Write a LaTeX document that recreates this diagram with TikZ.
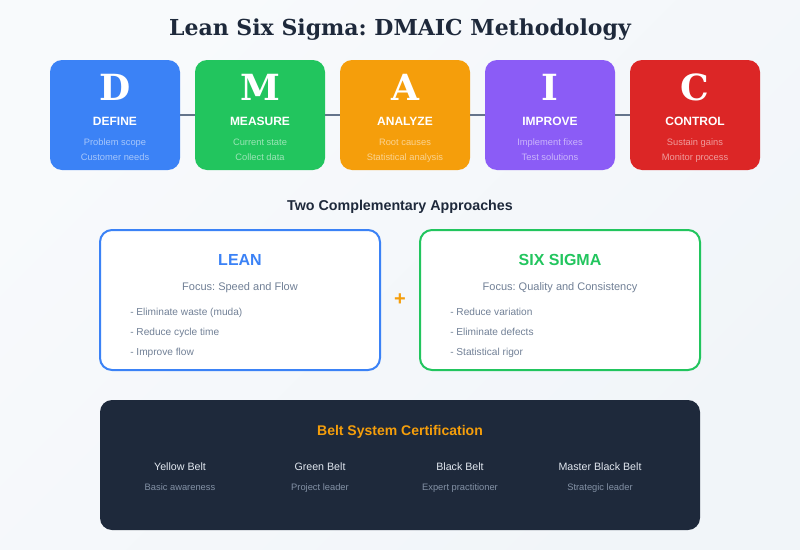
\documentclass[tikz,border=0pt]{standalone}
\usepackage{fontspec}
\setmainfont{Liberation Sans}
\newfontfamily\titlefont{DejaVu Serif}
\usepackage{tikz}
\AtBeginDocument{\frenchspacing}

\definecolor{bgA}{HTML}{F8FAFC}
\definecolor{bgB}{HTML}{F1F5F9}
\definecolor{navy}{HTML}{1E293B}
\definecolor{slate}{HTML}{64748B}
\definecolor{itemgrey}{HTML}{718096}
\definecolor{muted}{HTML}{8492A6}
\definecolor{pale}{HTML}{E2E8F0}
\definecolor{blueD}{HTML}{3B82F6}
\definecolor{greenM}{HTML}{22C55E}
\definecolor{amberA}{HTML}{F59E0B}
\definecolor{violetI}{HTML}{8B5CF6}
\definecolor{redC}{HTML}{DC2626}

\tikzset{
  txt/.style={inner sep=0pt, anchor=base},
  phase/.style={fill=#1, rounded corners=9pt, minimum width=97.5pt, minimum height=82.5pt, inner sep=0pt},
  letter/.style={txt, text=white, font=\titlefont\bfseries\fontsize{27}{32}\selectfont},
  phasename/.style={txt, text=white, font=\bfseries\fontsize{9}{11}\selectfont},
  phasenote/.style={txt, text=white, text opacity=0.55, font=\fontsize{7}{8}\selectfont},
  link/.style={draw=slate, line width=1.5pt},
  approach/.style={draw=#1, fill=white, line width=1.5pt, rounded corners=9pt, minimum width=210pt, minimum height=105pt, inner sep=0pt},
  apptitle/.style={txt, text=#1, font=\bfseries\fontsize{12}{14}\selectfont},
  focus/.style={txt, text=itemgrey, font=\fontsize{8.25}{10}\selectfont},
  point/.style={inner sep=0pt, anchor=base west, text=itemgrey, font=\fontsize{7.6}{9}\selectfont},
  beltname/.style={txt, text=pale, font=\fontsize{8}{10}\selectfont},
  beltnote/.style={txt, text=muted, font=\fontsize{7}{8}\selectfont}
}

\begin{document}
\begin{tikzpicture}[x=0.75pt, y=-0.75pt]
  % Background
  \shade[top color=bgA, bottom color=bgB, shading angle=45] (0, 0) rectangle (800, 550);
  \useasboundingbox (0, 0) rectangle (800, 550);

  % Title
  \node[txt, text=navy, font=\titlefont\bfseries\fontsize{16.5}{20}\selectfont] (title) at (400, 35) {Lean Six Sigma: DMAIC Methodology};

  % Define phase boxes
  \node[phase=blueD] (D) at (115, 115) {};
  \node[phase=greenM] (M) at (260, 115) {};
  \node[phase=amberA] (A) at (405, 115) {};
  \node[phase=violetI] (I) at (550, 115) {};
  \node[phase=redC] (C) at (695, 115) {};

  % Define links between phases
  \draw[link] (D) -- (M);
  \draw[link] (M) -- (A);
  \draw[link] (A) -- (I);
  \draw[link] (I) -- (C);

  % Phase texts
  \node[letter] (Dletter) at (115, 100) {D};
  \node[phasename] (Dname) at (115, 125) {DEFINE};
  \node[phasenote] (Dnote1) at (115, 145) {Problem scope};
  \node[phasenote] (Dnote2) at (115, 160) {Customer needs};

  \node[letter] (Mletter) at (260, 100) {M};
  \node[phasename] (Mname) at (260, 125) {MEASURE};
  \node[phasenote] (Mnote1) at (260, 145) {Current state};
  \node[phasenote] (Mnote2) at (260, 160) {Collect data};

  \node[letter] (Aletter) at (405, 100) {A};
  \node[phasename] (Aname) at (405, 125) {ANALYZE};
  \node[phasenote] (Anote1) at (405, 145) {Root causes};
  \node[phasenote] (Anote2) at (405, 160) {Statistical analysis};

  \node[letter] (Iletter) at (550, 100) {I};
  \node[phasename] (Iname) at (550, 125) {IMPROVE};
  \node[phasenote] (Inote1) at (550, 145) {Implement fixes};
  \node[phasenote] (Inote2) at (550, 160) {Test solutions};

  \node[letter] (Cletter) at (695, 100) {C};
  \node[phasename] (Cname) at (695, 125) {CONTROL};
  \node[phasenote] (Cnote1) at (695, 145) {Sustain gains};
  \node[phasenote] (Cnote2) at (695, 160) {Monitor process};

  % Two approaches
  \node[txt, text=navy, font=\bfseries\fontsize{10.7}{13}\selectfont] (twohead) at (400, 210) {Two Complementary Approaches};

  \node[approach=blueD] (lean) at (240, 300) {};
  \node[apptitle=blueD] (leantitle) at (240, 265) {LEAN};
  \node[focus] (leanfocus) at (240, 290) {Focus: Speed and Flow};
  \node[point] (lean1) at (130, 315) {- Eliminate waste (muda)};
  \node[point] (lean2) at (130, 335) {- Reduce cycle time};
  \node[point] (lean3) at (130, 355) {- Improve flow};

  \node[txt, text=amberA, font=\bfseries\fontsize{15}{18}\selectfont] (plus) at (400, 305) {+};

  \node[approach=greenM] (sigma) at (560, 300) {};
  \node[apptitle=greenM] (sigmatitle) at (560, 265) {SIX SIGMA};
  \node[focus] (sigmafocus) at (560, 290) {Focus: Quality and Consistency};
  \node[point] (sigma1) at (450, 315) {- Reduce variation};
  \node[point] (sigma2) at (450, 335) {- Eliminate defects};
  \node[point] (sigma3) at (450, 355) {- Statistical rigor};

  % Belt panel
  \node[fill=navy, rounded corners=9pt, minimum width=450pt, minimum height=97.5pt, inner sep=0pt] (panel) at (400, 465) {};
  \node[txt, text=amberA, font=\bfseries\fontsize{10.5}{13}\selectfont] (belthead) at (400, 435) {Belt System Certification};

  \node[beltname] (yellow) at (180, 470) {Yellow Belt};
  \node[beltnote] (yellownote) at (180, 490) {Basic awareness};
  \node[beltname] (green) at (320, 470) {Green Belt};
  \node[beltnote] (greennote) at (320, 490) {Project leader};
  \node[beltname] (black) at (460, 470) {Black Belt};
  \node[beltnote] (blacknote) at (460, 490) {Expert practitioner};
  \node[beltname] (master) at (600, 470) {Master Black Belt};
  \node[beltnote] (masternote) at (600, 490) {Strategic leader};
\end{tikzpicture}
\end{document}
